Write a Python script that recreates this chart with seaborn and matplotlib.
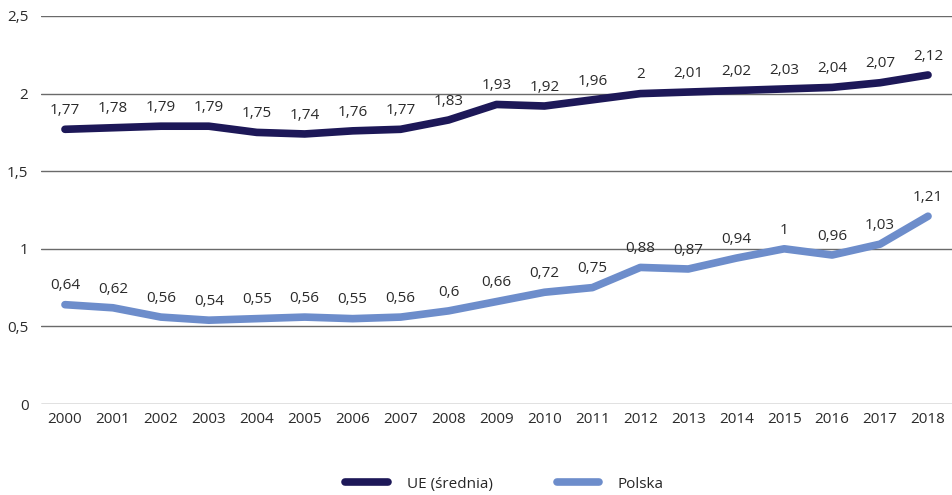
import matplotlib
matplotlib.use("Agg")
import matplotlib.pyplot as plt
import seaborn as sns
import pandas as pd

years = [str(y) for y in range(2000, 2019)]
ue_values = [1.77, 1.78, 1.79, 1.79, 1.75, 1.74, 1.76, 1.77, 1.83, 1.93,
             1.92, 1.96, 2.00, 2.01, 2.02, 2.03, 2.04, 2.07, 2.12]
pl_values = [0.64, 0.62, 0.56, 0.54, 0.55, 0.56, 0.55, 0.56, 0.60, 0.66,
             0.72, 0.75, 0.88, 0.87, 0.94, 1.00, 0.96, 1.03, 1.21]
series_names = ["UE (średnia)", "Polska"]
y_ticks = [0, 0.5, 1, 1.5, 2, 2.5]

colors = {"UE (średnia)": "#1d1858", "Polska": "#6d8dcb"}
FS = 11

sns.set_theme(style="white")
plt.rcParams["font.family"] = ["Open Sans", "DejaVu Sans"]

df = pd.DataFrame({
    "rok": list(range(len(years))) * 2,
    "wartość": ue_values + pl_values,
    "seria": [series_names[0]] * len(years) + [series_names[1]] * len(years),
})

fig = plt.figure(figsize=(9.52, 4.95), dpi=100)
ax = fig.add_axes([41 / 952, 1 - 404 / 495, 1 - 41 / 952, (404 - 16) / 495])

sns.lineplot(data=df, x="rok", y="wartość", hue="seria", palette=colors,
             linewidth=5.5, ax=ax, legend=False, solid_capstyle="round",
             solid_joinstyle="round")

def fmt(v):
    s = f"{v:.2f}".rstrip("0").rstrip(".")
    return s.replace(".", ",")

for vals in (ue_values, pl_values):
    for i, v in enumerate(vals):
        ax.annotate(fmt(v), (i, v), xytext=(0, 13.5), textcoords="offset points",
                    ha="center", va="center", fontsize=FS, color="#2b2b2b")

ax.set_xlim(-0.5, len(years) - 0.5)
ax.set_ylim(0, 2.5)
ax.set_yticks(y_ticks)
ax.set_yticklabels([fmt(t) for t in y_ticks])
ax.set_xticks(range(len(years)))
ax.set_xticklabels(years)
ax.grid(axis="y", color="#6a6a6a", linewidth=1)
ax.set_axisbelow(True)
for s in ax.spines.values():
    s.set_visible(False)
ax.tick_params(axis="both", length=0, labelsize=FS, colors="#2b2b2b")
ax.tick_params(axis="y", pad=9)
ax.tick_params(axis="x", pad=6)
ax.set_xlabel("")
ax.set_ylabel("")

handles = [plt.Line2D([0], [0], color=colors[n], linewidth=5.5,
                      solid_capstyle="round") for n in series_names]
fig.legend(handles, series_names, loc="center", bbox_to_anchor=(0.53, 0.022),
           ncol=2, frameon=False, fontsize=FS, handlelength=2.8,
           handletextpad=1.2, columnspacing=4.2)

fig.savefig("out.png", dpi=100)
